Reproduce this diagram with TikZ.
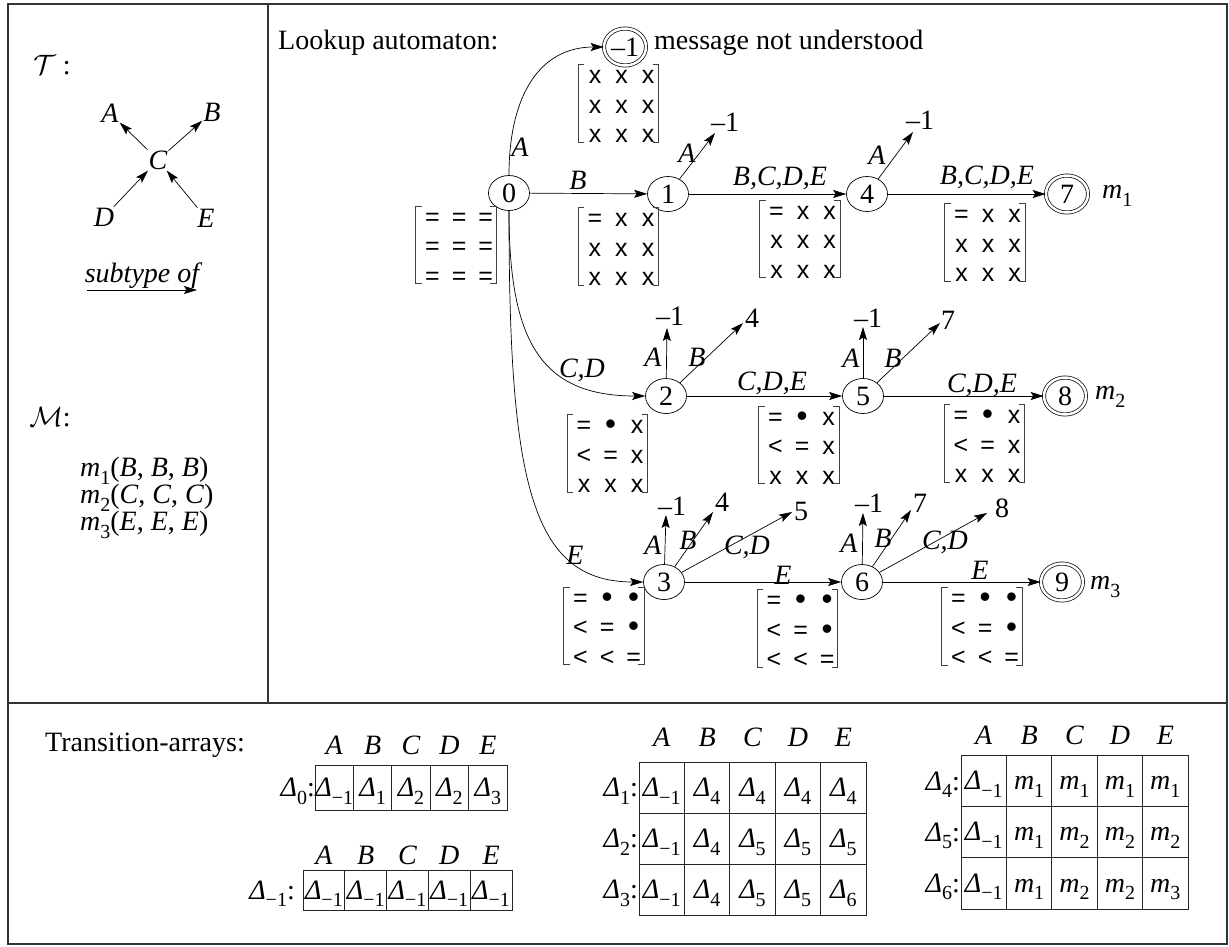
\RequirePackage{fix-cm}
\documentclass[tikz,border=0pt]{standalone}
\usepackage{fontspec}
\setmainfont{Liberation Serif}
\newfontfamily\sansf{Liberation Sans}
\usetikzlibrary{shapes.geometric,arrows.meta}
\newcommand\sbs[1]{\raisebox{-0.27em}{\fontsize{20}{20}\selectfont\upshape #1}}
\newcommand\Dl[1]{\textit{Δ}\sbs{#1}}
\newcommand\mm[1]{\textit{m}\sbs{#1}}
\newcommand\bul{\raisebox{-0.04em}{\scalebox{1.25}{•}}}
\newcommand\mtx[4]{%
  \node[mtxn] (#1) at (#2,#3) {};
  \foreach \e [count=\k from 0] in {#4} {%
    \pgfmathtruncatemacro\mcol{mod(\k,3)}%
    \pgfmathtruncatemacro\mrow{div(\k,3)}%
    \node[ment] (#1-\k) at ({#2+\mcol*26.6-23.5},{#3+\mrow*29.5-20}) {\e};
  }
  \draw[brk] ([xshift=6pt]#1.north west) -- (#1.north west) -- (#1.south west) -- ([xshift=6pt]#1.south west);
  \draw[brk] ([xshift=-6pt]#1.north east) -- (#1.north east) -- (#1.south east) -- ([xshift=-6pt]#1.south east);
}
\newcommand\arow[6]{%
  \foreach \e [count=\i from 0] in {#6} {%
    \draw[cell] ({#2+\i*#4},#3) rectangle ++(#4,#5);
    \node[ctext] (#1-\i) at ({#2+(\i+0.5)*#4},{#3+0.5*#5+9}) {\e};
  }}
\newcommand\hdr[4]{%
  \foreach \L [count=\i from 0] in {A,B,C,D,E} {%
    \node[lbl] (#1-\L) at ({#2+(\i+0.5)*#3},#4) {\L};}}
\begin{document}
\begin{tikzpicture}[x=1pt,y=-1pt,font=\fontsize{28}{33}\selectfont,
  st/.style={ellipse,draw,line width=0.7pt,minimum width=41pt,minimum height=35pt,inner sep=0pt},
  acc/.style={ellipse,draw,line width=0.7pt,double,double distance=2.5pt,minimum width=42pt,minimum height=37pt,inner sep=0pt},
  ar/.style={line width=0.7pt,-{Stealth[length=13pt,width=8pt,inset=2.5pt]}},
  lbl/.style={font=\fontsize{28}{33}\selectfont\itshape,inner sep=0pt},
  num/.style={inner sep=0pt},
  frame/.style={line width=1.2pt,black!80},
  brk/.style={line width=0.8pt,black!75},
  cell/.style={line width=0.8pt,black!85},
  mtxn/.style={inner sep=0pt,minimum width=80pt,minimum height=77pt},
  ment/.style={font=\sansf\fontsize{25}{25}\selectfont,inner sep=0pt,anchor=base},
  ctext/.style={inner sep=0pt,anchor=base},
  tnode/.style={font=\fontsize{28}{33}\selectfont\itshape,inner sep=1pt}]
\useasboundingbox (0,0) rectangle (1229,946);
% frame
\draw[frame] (8,4) rectangle (1227,944);
\draw[frame] (8,703) -- (1227,703);
\draw[frame] (268,4) -- (268,703);
% left panel
\node (Tlab) at (52,65) {$\mathcal{T}$ :};
\node[tnode] (tA) at (110,113) {A};
\node[tnode] (tB) at (212,112) {B};
\node[tnode] (tC) at (158,160) {C};
\node[tnode] (tD) at (104,217) {D};
\node[tnode] (tE) at (206,218) {E};
\draw[ar] (tC) -- (tA);
\draw[ar] (tC) -- (tB);
\draw[ar] (tD) -- (tC);
\draw[ar] (tE) -- (tC);
\node[lbl] (sub) at (142,276) {subtype of};
\coordinate (s0) at (87,290);
\coordinate (s1) at (197,290);
\draw[ar] (s0) -- (s1);
\node (Mlab) at (50,417) {$\mathcal{M}$:};
\node[anchor=west,inner sep=0pt] (mt1) at (80,471) {\mm{1}(\textit{B}, \textit{B}, \textit{B})};
\node[anchor=west,inner sep=0pt] (mt2) at (80,498) {\mm{2}(\textit{C}, \textit{C}, \textit{C})};
\node[anchor=west,inner sep=0pt] (mt3) at (80,525) {\mm{3}(\textit{E}, \textit{E}, \textit{E})};
% automaton
\node[anchor=west,inner sep=0pt] (look) at (278,43) {Lookup automaton:};
\node[acc] (nm1) at (625,47) {–1};
\node[anchor=west,inner sep=0pt] (msg) at (654,43) {message not understood};
\node[st] (n0) at (509,193) {0};
\node[st] (n1) at (668,194) {1};
\node[st] (n4) at (867,194) {4};
\node[acc] (n7) at (1067,194) {7};
\node[anchor=west,inner sep=0pt] (m1l) at (1102,196) {\mm{1}};
\node[st] (n2) at (666,396) {2};
\node[st] (n5) at (863,396) {5};
\node[acc] (n8) at (1065,396) {8};
\node[anchor=west,inner sep=0pt] (m2l) at (1095,397) {\mm{2}};
\node[st] (n3) at (664,582) {3};
\node[st] (n6) at (862,582) {6};
\node[acc] (n9) at (1062,582) {9};
\node[anchor=west,inner sep=0pt] (m3l) at (1090,587) {\mm{3}};
% matrices
\mtx{Mm1}{618.5}{103.5}{x,x,x,x,x,x,x,x,x}
\mtx{M0}{456}{245}{=,=,=,=,=,=,=,=,=}
\mtx{M01}{618.3}{246.5}{=,x,x,x,x,x,x,x,x}
\mtx{M14}{800}{239}{=,x,x,x,x,x,x,x,x}
\mtx{M47}{985}{242.5}{=,x,x,x,x,x,x,x,x}
\mtx{M2}{607.5}{453.5}{=,\bul,x,<,=,x,x,x,x}
\mtx{M25}{799}{445}{=,\bul,x,<,=,x,x,x,x}
\mtx{M58}{984.5}{443.5}{=,\bul,x,<,=,x,x,x,x}
\mtx{M3}{604}{626}{=,\bul,\bul,<,=,\bul,<,<,=}
\mtx{M36}{797.5}{628.5}{=,\bul,\bul,<,=,\bul,<,<,=}
\mtx{M69}{982}{626.5}{=,\bul,\bul,<,=,\bul,<,<,=}
% edges from 0
\draw[ar] (n0.north) .. controls (509,95) and (540,47) .. (nm1.west);
\node[lbl] (l0A) at (520,147) {A};
\draw[ar] (n0) -- (n1);
\node[lbl] (l0B) at (578,180) {B};
\draw[ar] (n0.south) .. controls (509,340) and (540,396) .. (n2.west);
\node[lbl] (l0CD) at (582,370) {C,D};
\draw[ar] (n0.south) .. controls (509,480) and (530,582) .. (n3.west);
\node[lbl] (l0E) at (575,555) {E};
% row 1
\coordinate (t1a) at (715,133);
\draw[ar] (n1) -- (t1a);
\node[lbl] (l1A) at (687,153) {A};
\node[num] (e1a) at (725,122) {–1};
\draw[ar] (n1) -- (n4);
\node[lbl] (l14) at (780,178) {B,C,D,E};
\coordinate (t4a) at (913,132);
\draw[ar] (n4) -- (t4a);
\node[lbl] (l4A) at (877,155) {A};
\node[num] (e4a) at (920,120) {–1};
\draw[ar] (n4) -- (n7);
\node[lbl] (l47) at (987,177) {B,C,D,E};
% row 2
\coordinate (t2a) at (667,328);
\draw[ar] (n2) -- (t2a);
\node[lbl] (l2A) at (653,357) {A};
\node[num] (e2a) at (670,316) {–1};
\coordinate (t2b) at (743,323);
\draw[ar] (n2) -- (t2b);
\node[lbl] (l2B) at (697,357) {B};
\node[num] (e2b) at (752,318) {4};
\draw[ar] (n2) -- (n5);
\node[lbl] (l25) at (772,383) {C,D,E};
\coordinate (t5a) at (863,327);
\draw[ar] (n5) -- (t5a);
\node[lbl] (l5A) at (851,358) {A};
\node[num] (e5a) at (868,318) {–1};
\coordinate (t5b) at (940,323);
\draw[ar] (n5) -- (t5b);
\node[lbl] (l5B) at (893,358) {B};
\node[num] (e5b) at (948,320) {7};
\draw[ar] (n5) -- (n8);
\node[lbl] (l58) at (982,385) {C,D,E};
% row 3
\coordinate (t3a) at (666,515);
\draw[ar] (n3) -- (t3a);
\node[lbl] (l3A) at (653,545) {A};
\node[num] (e3a) at (672,506) {–1};
\coordinate (t3b) at (713,512);
\draw[ar] (n3) -- (t3b);
\node[lbl] (l3B) at (688,540) {B};
\node[num] (e3b) at (722,502) {4};
\coordinate (t3c) at (792,512);
\draw[ar] (n3) -- (t3c);
\node[lbl] (l3C) at (747,547) {C,D};
\node[num] (e3c) at (801,511) {5};
\draw[ar] (n3) -- (n6);
\node[lbl] (l36) at (783,575) {E};
\coordinate (t6a) at (863,513);
\draw[ar] (n6) -- (t6a);
\node[lbl] (l6A) at (849,543) {A};
\node[num] (e6a) at (869,503) {–1};
\coordinate (t6b) at (911,510);
\draw[ar] (n6) -- (t6b);
\node[lbl] (l6B) at (883,538) {B};
\node[num] (e6b) at (920,503) {7};
\coordinate (t6c) at (987,513);
\draw[ar] (n6) -- (t6c);
\node[lbl] (l6C) at (945,542) {C,D};
\node[num] (e6c) at (1002,508) {8};
\draw[ar] (n6) -- (n9);
\node[lbl] (l69) at (980,570) {E};
% transition arrays
\node[anchor=west,inner sep=0pt] (ta) at (45,745) {Transition-arrays:};
\hdr{h0}{315}{38.4}{745}
\arow{D0}{315}{765}{38.4}{45}{\Dl{−1},\Dl{1},\Dl{2},\Dl{2},\Dl{3}}
\node[anchor=base east,inner sep=0pt] (D0l) at (315,796.5) {\Dl{0}:};
\hdr{hm}{303}{41.8}{855}
\arow{Dm}{303}{870}{41.8}{40}{\Dl{−1},\Dl{−1},\Dl{−1},\Dl{−1},\Dl{−1}}
\node[anchor=base east,inner sep=0pt] (Dml) at (295,899) {\Dl{−1}:};
\hdr{h1}{639}{45.4}{737}
\arow{D1}{639}{762}{45.4}{51}{\Dl{−1},\Dl{4},\Dl{4},\Dl{4},\Dl{4}}
\arow{D2}{639}{813}{45.4}{51}{\Dl{−1},\Dl{4},\Dl{5},\Dl{5},\Dl{5}}
\arow{D3}{639}{864}{45.4}{51}{\Dl{−1},\Dl{4},\Dl{5},\Dl{5},\Dl{6}}
\node[anchor=base east,inner sep=1pt] (D1l) at (639,796.5) {\Dl{1}:};
\node[anchor=base east,inner sep=1pt] (D2l) at (639,847.5) {\Dl{2}:};
\node[anchor=base east,inner sep=1pt] (D3l) at (639,898.5) {\Dl{3}:};
\hdr{h4}{961}{45.4}{735}
\arow{D4}{961}{755}{45.4}{51.3}{\Dl{−1},\mm{1},\mm{1},\mm{1},\mm{1}}
\arow{D5}{961}{806.3}{45.4}{51.3}{\Dl{−1},\mm{1},\mm{2},\mm{2},\mm{2}}
\arow{D6}{961}{857.6}{45.4}{51.3}{\Dl{−1},\mm{1},\mm{2},\mm{2},\mm{3}}
\node[anchor=base east,inner sep=1pt] (D4l) at (961,790) {\Dl{4}:};
\node[anchor=base east,inner sep=1pt] (D5l) at (961,841) {\Dl{5}:};
\node[anchor=base east,inner sep=1pt] (D6l) at (961,892) {\Dl{6}:};
\end{tikzpicture}
\end{document}
